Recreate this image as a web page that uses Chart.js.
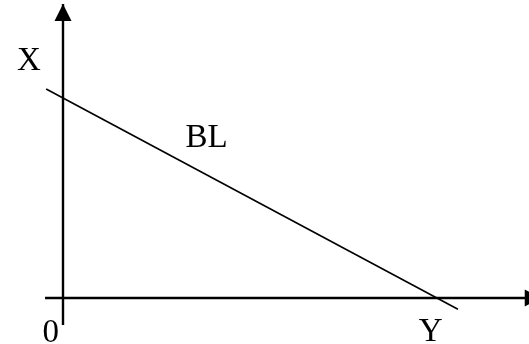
<!DOCTYPE html>
<html>
<head>
<meta charset="utf-8">
<script src="https://cdn.jsdelivr.net/npm/chart.js@4/dist/chart.umd.min.js"></script>
<style>
  html, body { margin: 0; padding: 0; background: #fff; }
  #wrap { width: 529px; height: 344px; }
</style>
</head>
<body>
<div id="wrap"><canvas id="c" width="529" height="344"></canvas></div>
<script>
// Budget line: intercepts on both axes (data units)
const budgetLineX = [-0.45, 10.56];
const budgetLineY = [10.45, -0.56];
// Axes (data units)
const verticalAxisX = [0, 0];
const verticalAxisY = [-1.35, 14.7];
const horizontalAxisX = [-0.48, 12.8];
const horizontalAxisY = [0, 0];
// Text labels and their anchors (data units)
const labelTexts = ["X", "BL", "0", "Y"];
const labelX = [-0.91, 3.84, -0.33, 9.83];
const labelY = [11.4, 7.55, -2.2, -2.15];

function pts(xs, ys) { return xs.map((x, i) => ({ x: x, y: ys[i] })); }

const arrowPlugin = {
  id: 'arrows',
  afterDatasetsDraw(chart) {
    const ctx = chart.ctx, xs = chart.scales.x, ys = chart.scales.y;
    ctx.save();
    ctx.fillStyle = '#000';
    // vertical arrow (pointing up)
    const vx = xs.getPixelForValue(verticalAxisX[1]);
    const vy = ys.getPixelForValue(verticalAxisY[1]);
    ctx.beginPath();
    ctx.moveTo(vx, vy);
    ctx.lineTo(vx - 8.5, vy + 17);
    ctx.lineTo(vx + 8.5, vy + 17);
    ctx.closePath();
    ctx.fill();
    // horizontal arrow (pointing right)
    const hx = xs.getPixelForValue(horizontalAxisX[1]);
    const hy = ys.getPixelForValue(horizontalAxisY[1]);
    ctx.beginPath();
    ctx.moveTo(hx, hy);
    ctx.lineTo(hx - 17, hy - 8.5);
    ctx.lineTo(hx - 17, hy + 8.5);
    ctx.closePath();
    ctx.fill();
    // labels
    ctx.font = '33px "Liberation Serif", "DejaVu Serif", serif';
    ctx.textAlign = 'center';
    ctx.textBaseline = 'alphabetic';
    labelTexts.forEach((t, i) => {
      ctx.fillText(t, xs.getPixelForValue(labelX[i]), ys.getPixelForValue(labelY[i]));
    });
    ctx.restore();
  }
};

new Chart(document.getElementById('c'), {
  type: 'scatter',
  data: {
    datasets: [
      { data: pts(verticalAxisX, verticalAxisY), showLine: true, borderColor: '#000', borderWidth: 2.4, pointRadius: 0 },
      { data: pts(horizontalAxisX, horizontalAxisY), showLine: true, borderColor: '#000', borderWidth: 2.4, pointRadius: 0 },
      { data: pts(budgetLineX, budgetLineY), showLine: true, borderColor: '#000', borderWidth: 1.6, pointRadius: 0 }
    ]
  },
  options: {
    responsive: false,
    animation: false,
    devicePixelRatio: 1,
    layout: { padding: 0 },
    plugins: { legend: { display: false }, tooltip: { enabled: false } },
    scales: {
      x: { type: 'linear', display: false, min: -63 / 37.4, max: (529 - 63) / 37.4 },
      y: { type: 'linear', display: false, min: -46 / 20, max: 298 / 20 }
    }
  },
  plugins: [arrowPlugin]
});
</script>
</body>
</html>
